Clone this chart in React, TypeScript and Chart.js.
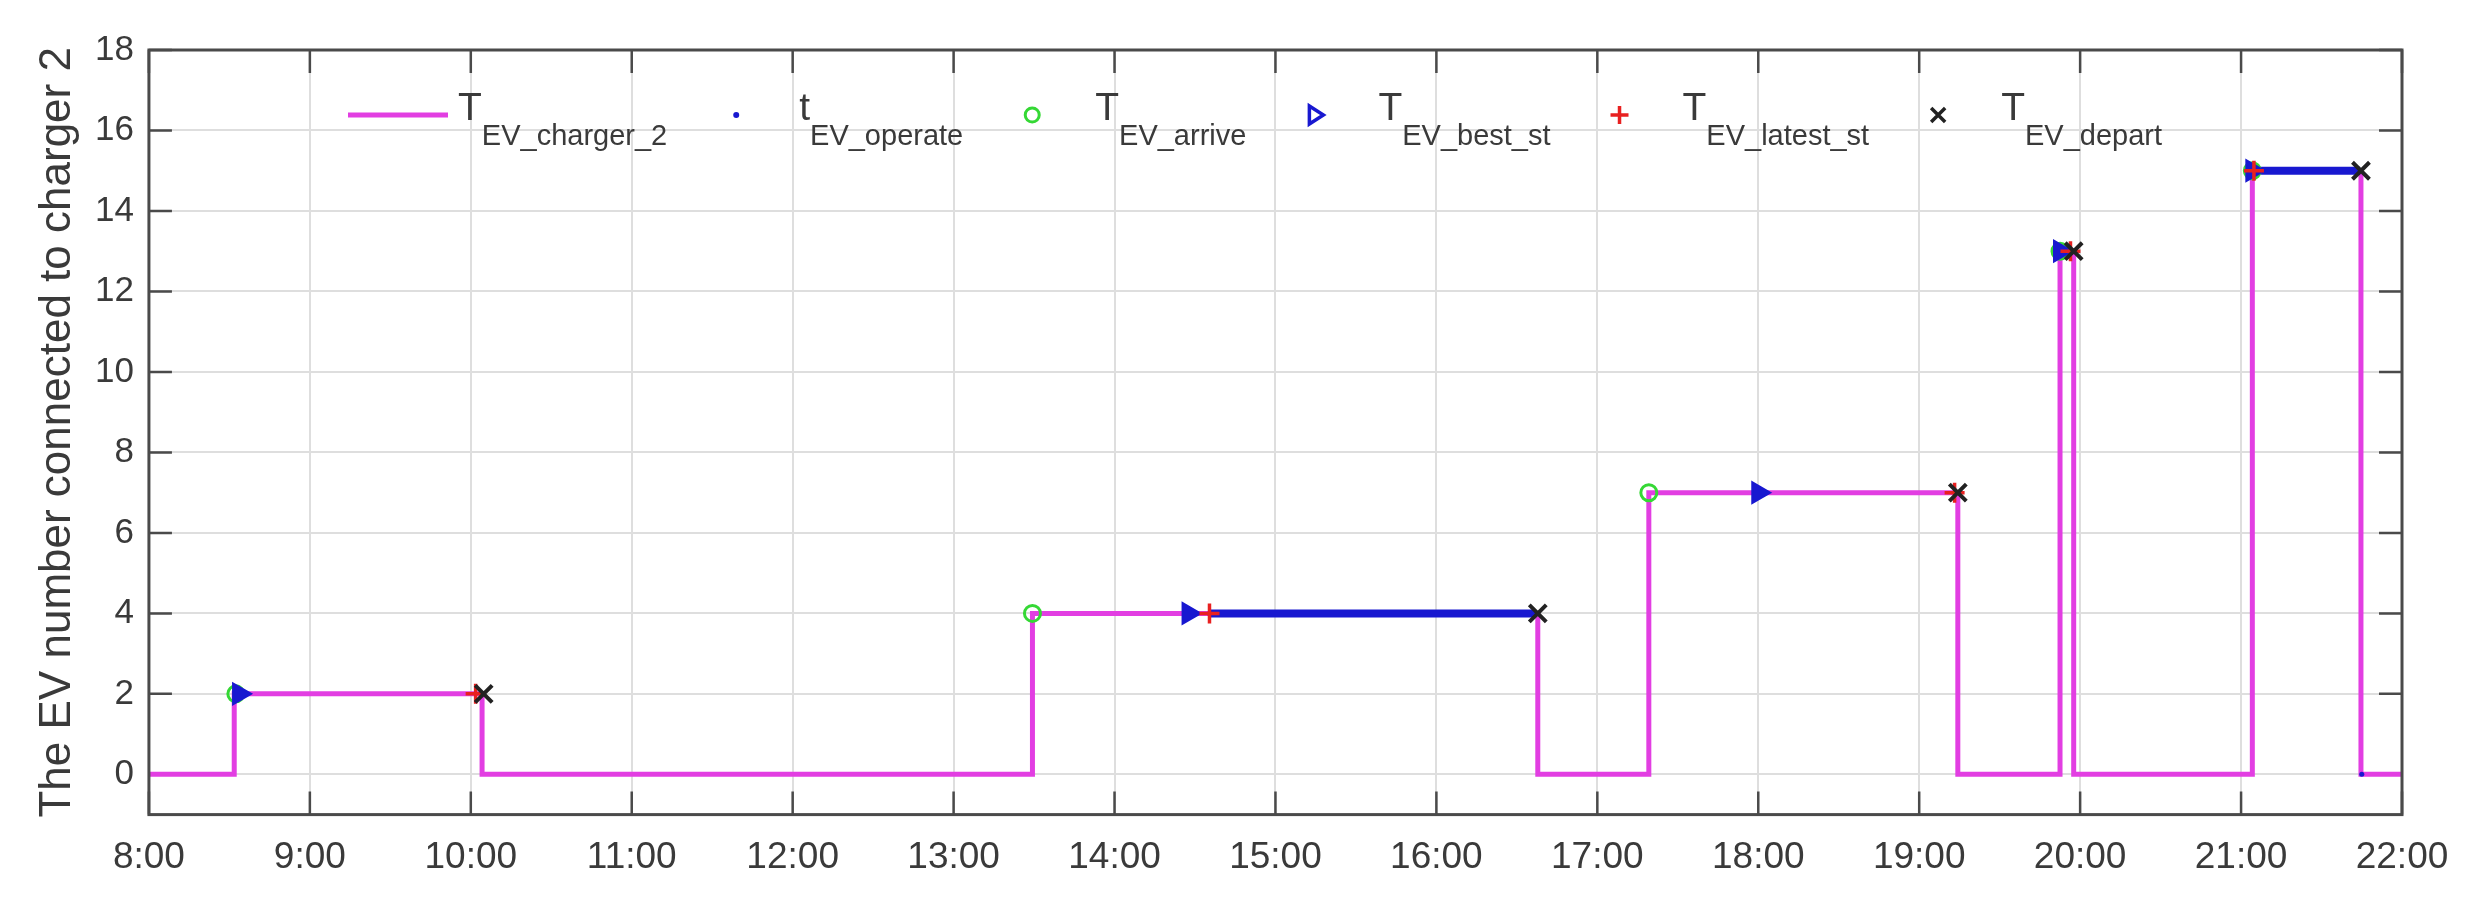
import React, { useEffect, useRef } from 'react';
import { Chart, registerables } from 'chart.js';

Chart.register(...registerables);

// ---- data (hours of the day, EV number) ----
const stepTimes = [8, 8.53, 10.07, 13.49, 16.63, 17.32, 19.24, 19.875, 19.96, 21.07, 21.745, 22];
const stepValues = [0, 2, 0, 4, 0, 7, 0, 13, 0, 15, 0, 0];

const operateStart = [14.59, 21.08];
const operateEnd = [16.6, 21.74];
const operateEv = [4, 15];
const operateDotTimes = [21.75];
const operateDotValues = [0];

const arriveTimes = [8.54, 13.49, 17.32, 19.875, 21.07];
const arriveEv = [2, 4, 7, 13, 15];

const bestTimes = [8.56, 14.46, 18.0, 19.875, 21.07];
const bestEv = [2, 4, 7, 13, 15];

const latestTimes = [10.03, 14.59, 19.22, 19.94, 21.08];
const latestEv = [2, 4, 7, 13, 15];

const departTimes = [10.08, 16.63, 19.24, 19.96, 21.745];
const departEv = [2, 4, 7, 13, 15];

const xTicks = [8, 9, 10, 11, 12, 13, 14, 15, 16, 17, 18, 19, 20, 21, 22];
const xTickLabels = ['8:00', '9:00', '10:00', '11:00', '12:00', '13:00', '14:00', '15:00', '16:00', '17:00', '18:00', '19:00', '20:00', '21:00', '22:00'];
const yTicks = [0, 2, 4, 6, 8, 10, 12, 14, 16, 18];

const legendMain = ['T', 't', 'T', 'T', 'T', 'T'];
const legendSub = ['EV_charger_2', 'EV_operate', 'EV_arrive', 'EV_best_st', 'EV_latest_st', 'EV_depart'];
const yTitle = 'The EV number connected to charger 2';

// ---- styles ----
const FONT = "'Liberation Sans', Arial, Helvetica, sans-serif";
const TEXT = '#3a3a3a';
const MAGENTA = '#e23ee2';
const BLUE = '#1818d0';
const GREEN = '#35d835';
const RED = '#e82020';
const BLACK = '#222222';

const pts = (xs: number[], ys: number[]) => xs.map((x, i) => ({ x, y: ys[i] }));

function operateData() {
  const d: { x: number; y: number | null }[] = [];
  operateStart.forEach((s, i) => {
    d.push({ x: s, y: operateEv[i] });
    d.push({ x: operateEnd[i], y: operateEv[i] });
    d.push({ x: operateEnd[i], y: null });
  });
  operateDotTimes.forEach((t, i) => {
    d.push({ x: t, y: operateDotValues[i] });
  });
  return d;
}

function drawLegendMarker(ctx: CanvasRenderingContext2D, kind: string, cx: number, cy: number) {
  ctx.save();
  ctx.lineCap = 'butt';
  if (kind === 'dot') {
    ctx.fillStyle = BLUE;
    ctx.beginPath();
    ctx.arc(cx, cy, 3, 0, Math.PI * 2);
    ctx.fill();
  } else if (kind === 'circle') {
    ctx.strokeStyle = GREEN;
    ctx.lineWidth = 3;
    ctx.beginPath();
    ctx.arc(cx, cy, 7, 0, Math.PI * 2);
    ctx.stroke();
  } else if (kind === 'triangle') {
    ctx.strokeStyle = BLUE;
    ctx.lineWidth = 3.5;
    ctx.beginPath();
    ctx.moveTo(cx - 6, cy - 9);
    ctx.lineTo(cx + 8, cy);
    ctx.lineTo(cx - 6, cy + 9);
    ctx.closePath();
    ctx.stroke();
  } else if (kind === 'plus') {
    ctx.strokeStyle = RED;
    ctx.lineWidth = 3.5;
    ctx.beginPath();
    ctx.moveTo(cx - 9, cy);
    ctx.lineTo(cx + 9, cy);
    ctx.moveTo(cx, cy - 9);
    ctx.lineTo(cx, cy + 9);
    ctx.stroke();
  } else if (kind === 'x') {
    ctx.strokeStyle = BLACK;
    ctx.lineWidth = 3.5;
    ctx.beginPath();
    ctx.moveTo(cx - 7, cy - 7);
    ctx.lineTo(cx + 7, cy + 7);
    ctx.moveTo(cx + 7, cy - 7);
    ctx.lineTo(cx - 7, cy + 7);
    ctx.stroke();
  }
  ctx.restore();
}

const legendKinds = ['line', 'dot', 'circle', 'triangle', 'plus', 'x'];

const matlabPlugin = {
  id: 'matlabLook',
  beforeDatasetsDraw(chart: any) {
    const { ctx, chartArea: a, scales } = chart;
    const xs = scales.x;
    const ys = scales.y;
    ctx.save();
    ctx.strokeStyle = '#4a4a4a';
    ctx.lineWidth = 2.5;
    ctx.beginPath();
    const L = 23;
    xTicks.forEach((v) => {
      const p = xs.getPixelForValue(v);
      ctx.moveTo(p, a.bottom);
      ctx.lineTo(p, a.bottom - L);
      ctx.moveTo(p, a.top);
      ctx.lineTo(p, a.top + L);
    });
    yTicks.forEach((v) => {
      const p = ys.getPixelForValue(v);
      ctx.moveTo(a.left, p);
      ctx.lineTo(a.left + L, p);
      ctx.moveTo(a.right, p);
      ctx.lineTo(a.right - L, p);
    });
    ctx.stroke();
    ctx.restore();
  },
  afterDatasetsDraw(chart: any) {
    const { ctx, chartArea: a } = chart;
    ctx.save();
    ctx.strokeStyle = '#4a4a4a';
    ctx.lineWidth = 3;
    ctx.strokeRect(a.left, a.top, a.right - a.left, a.bottom - a.top);
    ctx.restore();
  },
  afterDraw(chart: any) {
    const { ctx } = chart;
    ctx.save();
    const yLine = 115;
    const mainFont = `39px ${FONT}`;
    const subFont = `29px ${FONT}`;
    let x = 348;
    legendKinds.forEach((kind, i) => {
      let tx: number;
      if (kind === 'line') {
        ctx.strokeStyle = MAGENTA;
        ctx.lineWidth = 5;
        ctx.beginPath();
        ctx.moveTo(x, yLine);
        ctx.lineTo(x + 100, yLine);
        ctx.stroke();
        tx = x + 110;
      } else {
        drawLegendMarker(ctx, kind, x, yLine);
        tx = x + 63;
      }
      ctx.fillStyle = TEXT;
      ctx.textAlign = 'left';
      ctx.textBaseline = 'alphabetic';
      ctx.font = mainFont;
      ctx.fillText(legendMain[i], tx, 120);
      const mw = ctx.measureText(legendMain[i]).width;
      ctx.font = subFont;
      ctx.fillText(legendSub[i], tx + mw, 145);
      const sw = ctx.measureText(legendSub[i]).width;
      x = tx + mw + sw + 69;
    });
    ctx.restore();
  },
};

export default function App() {
  const ref = useRef<HTMLCanvasElement>(null);
  useEffect(() => {
    document.body.style.margin = '0';
    document.body.style.overflow = 'hidden';
    const canvas = ref.current!;
    const chart = new Chart(canvas, {
      type: 'scatter',
      data: {
        datasets: [
          {
            label: legendMain[0] + '_' + legendSub[0],
            data: pts(stepTimes, stepValues),
            showLine: true,
            stepped: true,
            borderColor: MAGENTA,
            borderWidth: 5,
            pointRadius: 0,
            order: 6,
          } as any,
          {
            label: legendMain[1] + '_' + legendSub[1],
            data: operateData(),
            showLine: true,
            spanGaps: false,
            borderColor: BLUE,
            borderWidth: 8,
            pointRadius: 2.5,
            pointBorderWidth: 0,
            pointBackgroundColor: BLUE,
            pointBorderColor: BLUE,
            order: 5,
          },
          {
            label: legendMain[2] + '_' + legendSub[2],
            data: pts(arriveTimes, arriveEv),
            pointStyle: 'circle',
            pointRadius: 8,
            borderColor: GREEN,
            backgroundColor: 'rgba(0,0,0,0)',
            borderWidth: 3,
            order: 4,
          },
          {
            label: legendMain[3] + '_' + legendSub[3],
            data: pts(bestTimes, bestEv),
            pointStyle: 'triangle',
            rotation: 90,
            pointRadius: 12,
            borderColor: BLUE,
            backgroundColor: BLUE,
            borderWidth: 2,
            order: 3,
          },
          {
            label: legendMain[4] + '_' + legendSub[4],
            data: pts(latestTimes, latestEv),
            pointStyle: 'cross',
            pointRadius: 10,
            borderColor: RED,
            borderWidth: 3.5,
            order: 2,
          },
          {
            label: legendMain[5] + '_' + legendSub[5],
            data: pts(departTimes, departEv),
            pointStyle: 'crossRot',
            pointRadius: 12,
            borderColor: BLACK,
            borderWidth: 4,
            order: 1,
          },
        ],
      },
      options: {
        responsive: false,
        animation: false,
        devicePixelRatio: 1,
        events: [],
        layout: { padding: { left: 0, top: 50, right: 73, bottom: 6 } },
        plugins: {
          legend: { display: false },
          tooltip: { enabled: false },
        },
        scales: {
          x: {
            type: 'linear',
            min: 8,
            max: 22,
            afterBuildTicks: (s: any) => {
              s.ticks = xTicks.map((v) => ({ value: v }));
            },
            ticks: {
              callback: (_v: any, i: number) => xTickLabels[i],
              font: { family: FONT, size: 37 },
              color: TEXT,
              padding: 21,
              maxRotation: 0,
              autoSkip: false,
            },
            grid: { color: '#dedede', lineWidth: 2, drawTicks: false },
            border: { display: false },
          },
          y: {
            type: 'linear',
            min: -1,
            max: 18,
            afterBuildTicks: (s: any) => {
              s.ticks = yTicks.map((v) => ({ value: v }));
            },
            ticks: {
              callback: (v: any) => String(v),
              font: { family: FONT, size: 35 },
              color: TEXT,
              padding: 15,
              autoSkip: false,
            },
            grid: { color: '#dedede', lineWidth: 2, drawTicks: false },
            border: { display: false },
            title: {
              display: true,
              text: yTitle,
              font: { family: FONT, size: 44, lineHeight: 1 },
              color: TEXT,
              padding: { top: 36, bottom: 0 },
            },
          },
        },
      },
      plugins: [matlabPlugin],
    } as any);
    return () => chart.destroy();
  }, []);
  return (
    <div style={{ width: 2475, height: 907, background: '#fff' }}>
      <canvas ref={ref} width={2475} height={907} style={{ display: 'block' }} />
    </div>
  );
}
